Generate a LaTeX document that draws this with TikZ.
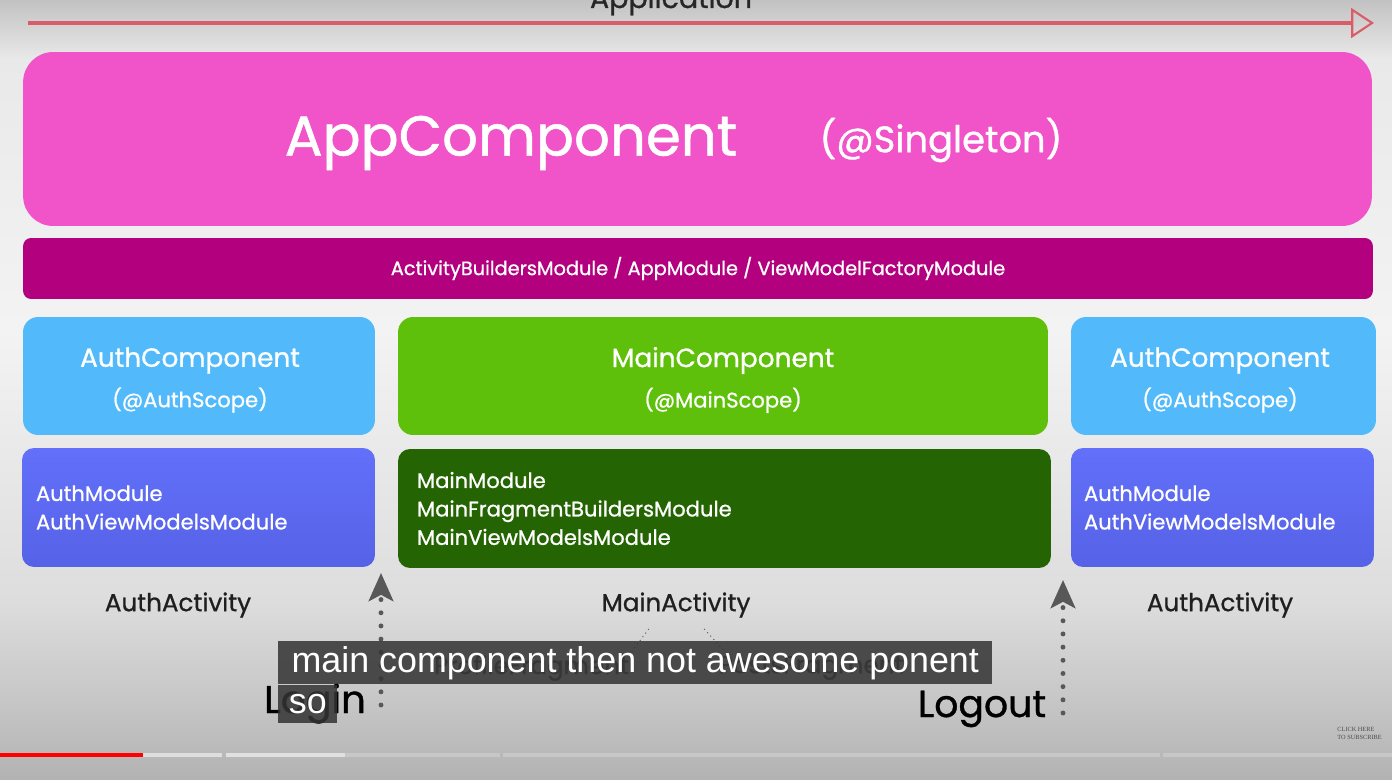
\documentclass[tikz,border=0pt]{standalone}
\usepackage{fontspec}
\setmainfont{Poppins}[FakeBold=0.9]
\newfontfamily\captionfont{Liberation Sans}
\newfontfamily\badgefont{Liberation Serif}
\usepackage{xcolor}
\usetikzlibrary{arrows.meta,positioning}

\definecolor{AppPink}{RGB}{240,84,200}
\definecolor{BarPurple}{RGB}{178,0,126}
\definecolor{AuthBlue}{RGB}{82,186,250}
\definecolor{ModBlueTop}{RGB}{98,112,250}
\definecolor{ModBlueBot}{RGB}{86,98,230}
\definecolor{MainGreen}{RGB}{94,192,10}
\definecolor{MainDark}{RGB}{36,100,2}
\definecolor{AppRed}{RGB}{218,92,102}
\definecolor{FlowGray}{RGB}{88,88,88}
\definecolor{CapBox}{RGB}{52,52,52}
\definecolor{BgTop}{RGB}{194,194,194}
\definecolor{BgTopB}{RGB}{233,233,233}
\definecolor{BgMid}{RGB}{243,243,243}
\definecolor{BgMidB}{RGB}{221,221,221}
\definecolor{BgLowB}{RGB}{198,198,198}
\definecolor{BgLow}{RGB}{178,178,178}

\pgfdeclareverticalshading{screenbg}{100bp}{color(0bp)=(BgLow); color(25bp)=(BgLow);
  color(30bp)=(BgLowB); color(36.5bp)=(BgMidB); color(53.8bp)=(BgMid);
  color(71.2bp)=(BgTopB); color(75bp)=(BgTop); color(100bp)=(BgTop)}

\newcommand\compfont{\fontsize{15}{18}\selectfont}
\newcommand\scopefont{\fontsize{12}{14}\selectfont}

\begin{document}
\begin{tikzpicture}[x=0.02cm,y=-0.02cm,
    comp/.style={rounded corners=0.3cm,minimum height=2.36cm,inner sep=0pt,text=white,align=center,font=\compfont},
    complabel/.style={text=white,align=center,font=\compfont,inner sep=0pt},
    modbox/.style={rounded corners=0.24cm,minimum height=2.38cm,inner ysep=0pt,text=white,align=left,
      font=\fontsize{12}{16.2}\selectfont},
    actlabel/.style={font=\fontsize{14}{16}\selectfont,text=black!88},
    fraglabel/.style={font=\fontsize{14}{16}\selectfont,text=black!72,inner sep=0pt},
    fragline/.style={black!60,line width=0.6pt,dotted},
    flowarrow/.style={FlowGray,line width=2.8pt,line cap=round,dash pattern=on 0pt off 7.5pt,
      -{Stealth[length=16pt,width=14pt,inset=3.6pt]}},
    caption/.style={fill=CapBox,fill opacity=0.86,text opacity=1,text=white,inner ysep=0pt,inner xsep=0.2cm,
      font=\captionfont\fontsize{20.4}{24}\selectfont}]
  \useasboundingbox (0,0) rectangle (1392,780);
  \shade[shading=screenbg] (0,0) rectangle (1392,780);

  % application lifetime
  \node[font=\fontsize{16.2}{19}\selectfont,text=black!85,anchor=base] (appTitle) at (671,8) {Application};
  \coordinate (appStart) at (28,23);
  \coordinate (appEnd) at (1374,23);
  \draw[AppRed,line width=1.8pt,-{Triangle[open,length=13pt,width=17pt,line width=1.2pt]}] (appStart) -- (appEnd);

  % singleton component
  \node[fill=AppPink,rounded corners=0.6cm,minimum width=26.98cm,minimum height=3.48cm,inner sep=0pt] (appComp) at (697.5,139) {};
  \node[text=white,font=\fontsize{32}{38}\selectfont] (appName) at (511,143) {AppComponent};
  \node[text=white,font=\fontsize{21}{25}\selectfont] (appScope) at (941,140) {(@Singleton)};

  \node[fill=BarPurple,rounded corners=0.16cm,minimum width=27cm,minimum height=1.22cm,text=white,
    font=\fontsize{11}{13}\selectfont] (modBar) at (698,268.5) {ActivityBuildersModule / AppModule / ViewModelFactoryModule};

  % subcomponents
  \node[comp,fill=AuthBlue,minimum width=7.04cm] (authCompL) at (199,376) {};
  \node[complabel] (authCompLText) at (190,380) {AuthComponent\\[5pt]{\scopefont (@AuthScope)}};
  \node[comp,fill=MainGreen,minimum width=13cm] (mainComp) at (723,376) {};
  \node[complabel] (mainCompText) at (723,380) {MainComponent\\[5pt]{\scopefont (@MainScope)}};
  \node[comp,fill=AuthBlue,minimum width=6.1cm] (authCompR) at (1223.5,376) {};
  \node[complabel] (authCompRText) at (1220,380) {AuthComponent\\[5pt]{\scopefont (@AuthScope)}};

  \node[modbox,top color=ModBlueTop,bottom color=ModBlueBot,minimum width=7.06cm,text width=6.5cm,inner xsep=0.28cm] (authModL) at (198.5,507.5)
    {AuthModule\\AuthViewModelsModule};
  \node[modbox,fill=MainDark,minimum width=13.06cm,text width=12.3cm,inner xsep=0.38cm] (mainMod) at (724.5,508.5)
    {MainModule\\MainFragmentBuildersModule\\MainViewModelsModule};
  \node[modbox,top color=ModBlueTop,bottom color=ModBlueBot,minimum width=6.06cm,text width=5.54cm,inner xsep=0.26cm] (authModR) at (1222.5,507.5)
    {AuthModule\\AuthViewModelsModule};

  % activities
  \node[actlabel] (authActL) at (178,605) {AuthActivity};
  \node[actlabel] (mainAct) at (676,605) {MainActivity};
  \node[actlabel] (authActR) at (1220,605) {AuthActivity};

  \node[fraglabel] (profFrag) at (531.5,668) {ProfileFragment};
  \node[fraglabel] (postFrag) at (811,668) {PostsFragment};
  \draw[fragline] ([xshift=-15.5pt,yshift=-3pt]mainAct.south) -- (profFrag.north east);
  \draw[fragline] ([xshift=16pt,yshift=-3pt]mainAct.south) -- ([xshift=6pt]postFrag.north west);

  % login / logout
  \node[font=\fontsize{22}{26}\selectfont,text=black,anchor=base] (loginLbl) at (315,713) {Login};
  \node[font=\fontsize{21.5}{26}\selectfont,text=black,anchor=base] (logoutLbl) at (982,717) {Logout};
  \coordinate (loginFoot) at (381,705);
  \coordinate (loginTip) at (381,573);
  \coordinate (logoutFoot) at (1063,713);
  \coordinate (logoutTip) at (1063,580);
  \draw[flowarrow] (loginFoot) -- (loginTip);
  \draw[flowarrow] (logoutFoot) -- (logoutTip);

  % video overlay
  \node[caption,anchor=north west,minimum width=14.28cm,minimum height=0.86cm] (subLine) at (278,641)
    {main component then not awesome ponent};
  \node[caption,anchor=north west,inner xsep=0pt,minimum width=1.18cm,minimum height=0.76cm] (subSo) at (subLine.south west) {so};
  \node[anchor=north west,inner sep=0pt,font=\badgefont\fontsize{3.6}{4.4}\selectfont,text=black!70,align=left] (subscribeBadge) at (1337,727)
    {CLICK HERE\\TO SUBSCRIBE};

  \fill[red] (0,753) rectangle (143,757);
  \fill[black!13] (143,753) rectangle (222,757);
  \fill[black!12] (226,753) rectangle (345,757);
  \fill[black!22] (345,753) rectangle (500,757);
  \fill[black!22] (503,753) rectangle (1160,757);
  \fill[black!22] (1163,753) rectangle (1392,757);
\end{tikzpicture}
\end{document}
